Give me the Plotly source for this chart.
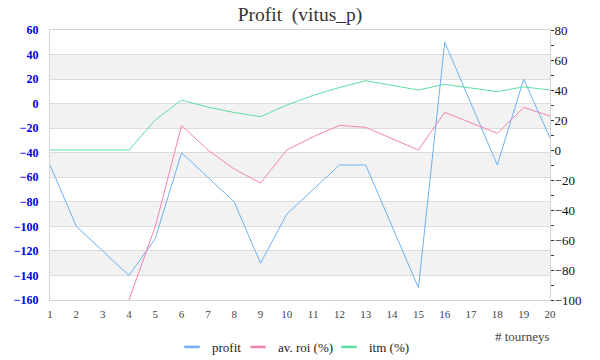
import plotly.graph_objects as go

tourneys = list(range(1, 21))
profit = [-50, -100, -120, -140, -110, -40, -60, -80, -130, -90,
          -70, -50, -50, -100, -150, 50, 0, -50, 20, -28]
av_roi = [None, None, None, -100, -51, 16.3, 0, -12.7, -22, 0,
          8.8, 16.4, 15.1, 7.5, 0, 25.1, 17.9, 11.1, 28.4, 22.6]
itm = [0, 0, 0, 0, 20, 33.3, 28.6, 25, 22.2, 30,
       36.4, 41.7, 46.2, 42.9, 40, 43.8, 41.2, 38.9, 42.1, 40]

left_ticks = list(range(-160, 61, 20))
right_ticks = list(range(-100, 81, 20))
x_ticks = list(range(1, 21))

BLUE = "#6fb0ee"
PINK = "#f283b3"
GREEN = "#5ddfa0"
SERIF = "Liberation Serif, DejaVu Serif, serif"

series = [("profit", profit, BLUE, "y", "legend", 0.244),
          ("av. roi (%)", av_roi, PINK, "y2", "legend2", 0.376),
          ("itm (%)", itm, GREEN, "y2", "legend3", 0.558)]

fig = go.Figure()
for name, vals, col, yax, leg, lx in series:
    fig.add_trace(go.Scatter(x=tourneys, y=vals, mode="lines", name=name,
                             line=dict(color=col, width=1), yaxis=yax,
                             showlegend=False, connectgaps=False))
# legend entries with short dash symbols, one legend per entry
for name, vals, col, yax, leg, lx in series:
    fig.add_trace(go.Scatter(x=[None], y=[None], mode="markers", name=name,
                             marker=dict(symbol="line-ew", size=11,
                                         line=dict(color=col, width=2.5)),
                             showlegend=True, legend=leg))

# alternating bands
shapes = []
for i in range(len(left_ticks) - 1):
    lo, hi = left_ticks[i], left_ticks[i + 1]
    if i % 2 == 1:
        shapes.append(dict(type="rect", xref="paper", yref="y", x0=0, x1=1,
                           y0=lo, y1=hi, fillcolor="#f2f2f2", line=dict(width=0),
                           layer="below"))

legend_common = dict(orientation="h", xanchor="left", y=-0.174, yanchor="middle",
                     font=dict(family=SERIF, size=13, color="#222"),
                     itemwidth=30, bgcolor="rgba(0,0,0,0)")

fig.update_layout(
    width=600, height=360,
    margin=dict(l=50, r=50, t=30, b=60, autoexpand=False),
    paper_bgcolor="white", plot_bgcolor="white",
    font=dict(family=SERIF, color="#333"),
    title=dict(text="Profit\u00a0 (vitus_p)", x=0.5, xanchor="center",
               y=1 - 14 / 360, yanchor="middle",
               font=dict(family=SERIF, size=19.5, color="#333")),
    shapes=shapes,
    xaxis=dict(range=[1, 20], tickvals=x_ticks, ticktext=[str(v) for v in x_ticks],
               showgrid=False, zeroline=False, showline=True, linecolor="#d4d4d4",
               linewidth=1, mirror=True, ticks="", automargin=False,
               ticklabelstandoff=4,
               tickfont=dict(family=SERIF, size=11, color="#444")),
    yaxis=dict(range=[-160, 60], tickvals=left_ticks, automargin=False,
               showgrid=True, gridcolor="#dcdcdc", gridwidth=1, zeroline=False,
               showline=True, linecolor="#d4d4d4", linewidth=1, mirror=True,
               ticks="", ticklabelstandoff=8,
               tickfont=dict(family=SERIF, size=12, color="#0000ee", weight="bold")),
    yaxis2=dict(range=[-100, 80], tickvals=right_ticks, overlaying="y", side="right",
                showgrid=False, zeroline=False, showline=False, automargin=False,
                ticks="outside", ticklen=3, tickcolor="#333", tickwidth=1,
                ticklabelstandoff=-2,
                minor=dict(dtick=10, tick0=0, ticks="outside", ticklen=3,
                           tickcolor="#333", tickwidth=1),
                tickfont=dict(family=SERIF, size=13, color="#111")),
    legend=dict(x=series[0][5], **legend_common),
    legend2=dict(x=series[1][5], **legend_common),
    legend3=dict(x=series[2][5], **legend_common),
    annotations=[dict(text="# tourneys", xref="paper", yref="paper", x=1.004, y=-0.137,
                      xanchor="right", yanchor="middle", showarrow=False,
                      font=dict(family=SERIF, size=13, color="#444"))],
)

fig.write_html("out.html",
               config={"displayModeBar": False},
               post_script="document.body.style.margin='0';"
                           "document.body.style.padding='0';"
                           "document.body.style.overflow='hidden';")
